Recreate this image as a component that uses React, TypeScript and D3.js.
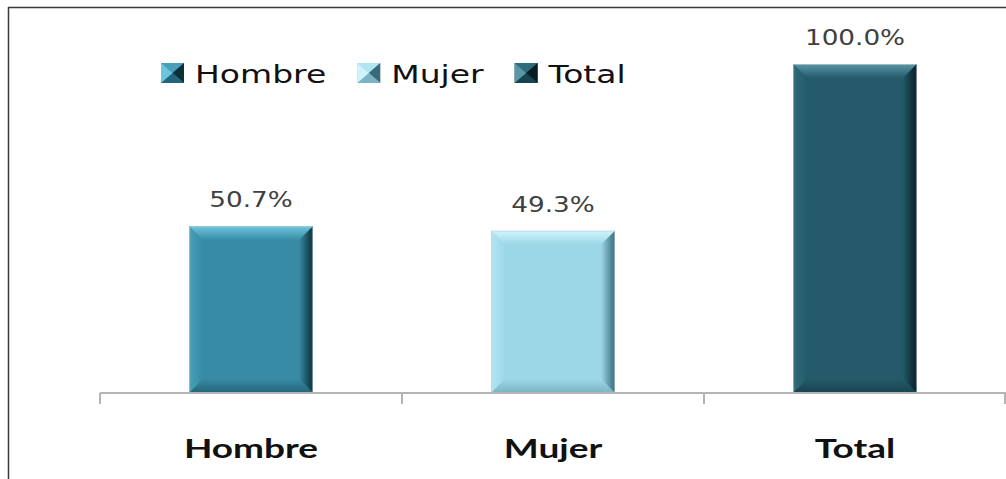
import React, { useEffect, useRef } from "react";
import * as d3 from "d3";

const categories = ["Hombre", "Mujer", "Total"];
const values = [50.7, 49.3, 100.0];
const valueLabels = ["50.7%", "49.3%", "100.0%"];
const legendNames = ["Hombre", "Mujer", "Total"];

type Pal = { base: string; top: string; left: string; right: string; bottom: string };
const palettes: Pal[] = [
  { base: "#378ba4", top: "#6cc6dd", left: "#48a0b8", right: "#0c2f39", bottom: "#23657a" },
  { base: "#9cd7e8", top: "#d0f4fc", left: "#b2e5f2", right: "#3a6a78", bottom: "#79b3c4" },
  { base: "#245a69", top: "#5a97a6", left: "#2f6b7b", right: "#071d23", bottom: "#17434f" },
];

const W = 1006;
const H = 479;

export default function App() {
  const ref = useRef<SVGSVGElement | null>(null);

  useEffect(() => {
    const svg = d3.select(ref.current);
    svg.selectAll("*").remove();
    const defs = svg.append("defs");

    const x0 = 100, x1 = 1006;
    const yBase = 393;
    const x = d3.scaleBand<string>().domain(categories).range([x0, x1]).paddingInner(0.59).paddingOuter(0.295);
    const y = d3.scaleLinear().domain([0, 100]).range([yBase, 64]);

    // frame
    svg.append("line").attr("x1", 8).attr("x2", W).attr("y1", 7.5).attr("y2", 7.5).attr("stroke", "#3a3a3a").attr("stroke-width", 1.5);
    svg.append("line").attr("x1", 8.5).attr("x2", 8.5).attr("y1", 7).attr("y2", H).attr("stroke", "#3a3a3a").attr("stroke-width", 1.5);

    // gradients
    palettes.forEach((p, i) => {
      const mk = (id: string, x1: string, y1: string, x2: string, y2: string, c1: string, c2: string) => {
        const g = defs.append("linearGradient").attr("id", id).attr("x1", x1).attr("y1", y1).attr("x2", x2).attr("y2", y2);
        g.append("stop").attr("offset", "0%").attr("stop-color", c1);
        g.append("stop").attr("offset", "100%").attr("stop-color", c2);
      };
      mk(`top${i}`, "0", "0", "0", "1", p.top, p.base);
      mk(`right${i}`, "0", "0", "1", "0", p.base, p.right);
      mk(`bottom${i}`, "0", "0", "0", "1", p.base, p.bottom);
      mk(`left${i}`, "0", "0", "1", "0", p.left, p.base);
    });

    // bars
    const bw = x.bandwidth();
    const bv = 14;
    categories.forEach((c, i) => {
      const bx = x(c)!;
      const by = y(values[i]);
      const bh = yBase - by;
      const g = svg.append("g");
      g.append("rect").attr("x", bx).attr("y", by).attr("width", bw).attr("height", bh).attr("fill", palettes[i].base);
      const r = bx + bw, b = yBase;
      const poly = (pts: number[][], fill: string) =>
        g.append("polygon").attr("points", pts.map((p) => p.join(",")).join(" ")).attr("fill", fill);
      poly([[bx, by], [r, by], [r - bv, by + bv], [bx + bv, by + bv]], `url(#top${i})`);
      poly([[bx, by], [bx + bv, by + bv], [bx + bv, b - bv], [bx, b]], `url(#left${i})`);
      poly([[r, by], [r, b], [r - bv, b - bv], [r - bv, by + bv]], `url(#right${i})`);
      poly([[bx, b], [bx + bv, b - bv], [r - bv, b - bv], [r, b]], `url(#bottom${i})`);
      g.append("rect").attr("x", bx + 0.5).attr("y", by + 0.5).attr("width", bw - 1).attr("height", bh - 1)
        .attr("fill", "none").attr("stroke", "rgba(200,215,220,0.6)").attr("stroke-width", 1);

      // value label
      svg.append("text")
        .attr("transform", `translate(${bx + bw / 2},${by - 19}) scale(1.25,1)`)
        .attr("text-anchor", "middle")
        .attr("font-family", "DejaVu Sans")
        .attr("font-size", 21)
        .attr("fill", "#404040")
        .text(valueLabels[i]);
    });

    // axis
    const axisG = svg.append("g");
    axisG.append("line").attr("x1", x0).attr("x2", x1).attr("y1", yBase).attr("y2", yBase).attr("stroke", "#b4b4b4").attr("stroke-width", 2);
    const step = x.step();
    const tickXs = d3.range(categories.length + 1).map((k) => x0 + k * step);
    tickXs.forEach((tx) => {
      axisG.append("line").attr("x1", Math.min(tx, W - 1)).attr("x2", Math.min(tx, W - 1)).attr("y1", yBase).attr("y2", yBase + 11)
        .attr("stroke", "#b4b4b4").attr("stroke-width", 2);
    });
    categories.forEach((c) => {
      axisG.append("text")
        .attr("transform", `translate(${x(c)! + bw / 2},458) scale(1.37,1)`)
        .attr("text-anchor", "middle")
        .attr("font-family", "Lato")
        .attr("font-weight", 700)
        .attr("font-size", 27)
        .attr("fill", "#111")
        .text(c);
    });

    // legend
    const lg = svg.append("g");
    let lx = 161;
    const ly = 63;
    legendNames.forEach((n, i) => {
      const mw = 23, mh = 20;
      const p = palettes[i];
      const cx = lx + mw / 2, cy = ly + mh / 2;
      const tri = (pts: number[][], fill: string) =>
        lg.append("polygon").attr("points", pts.map((q) => q.join(",")).join(" ")).attr("fill", fill);
      lg.append("rect").attr("x", lx).attr("y", ly).attr("width", mw).attr("height", mh).attr("fill", p.base);
      tri([[lx, ly], [lx + mw, ly], [cx, cy]], p.left);
      tri([[lx + mw, ly], [lx + mw, ly + mh], [cx, cy]], p.right);
      tri([[lx, ly + mh], [lx + mw, ly + mh], [cx, cy]], p.bottom);
      tri([[lx, ly], [lx, ly + mh], [cx, cy]], p.top);
      const t = lg.append("text")
        .attr("transform", `translate(${lx + mw + 11},${ly + 20}) scale(1.32,1)`)
        .attr("font-family", "DejaVu Sans")
        .attr("font-size", 25)
        .attr("fill", "#111")
        .text(n);
      const tw = (t.node() as SVGTextElement).getComputedTextLength() * 1.32;
      lx = lx + mw + 11 + tw + 31;
    });
  }, []);

  return (
    <svg
      ref={ref}
      width={W}
      height={H}
      style={{ position: "absolute", left: 0, top: 0, background: "#fff" }}
    />
  );
}
